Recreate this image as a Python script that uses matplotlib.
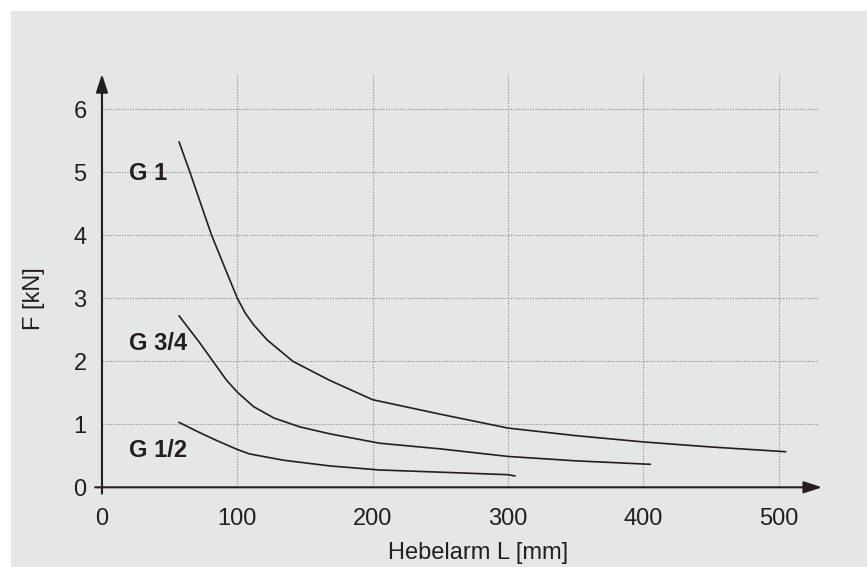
"""
Hebelarm vs. Kraft diagram (G 1, G 3/4, G 1/2)
"""

import matplotlib.pyplot as plt
from matplotlib.patches import Rectangle

plt.rcParams["font.family"] = ["Liberation Sans", "DejaVu Sans"]

# ------------------------------------------------------------------
# Data
# ------------------------------------------------------------------
g1_x = [57, 65, 73, 81, 92, 100, 106, 112, 122, 141, 168, 200, 250, 300, 350, 400, 450, 505]
g1_y = [5.48, 5.00, 4.50, 4.00, 3.42, 3.0, 2.76, 2.58, 2.34, 2.0, 1.70, 1.39, 1.16, 0.94,
        0.82, 0.72, 0.64, 0.565]

g34_x = [57, 72, 82, 92, 100, 112, 127, 146, 168, 205, 250, 300, 350, 405]
g34_y = [2.72, 2.30, 2.0, 1.70, 1.51, 1.28, 1.10, 0.96, 0.85, 0.70, 0.61, 0.49, 0.42, 0.365]

g12_x = [57, 72, 85, 100, 109, 134, 168, 205, 250, 300, 305]
g12_y = [1.03, 0.87, 0.74, 0.60, 0.53, 0.43, 0.34, 0.275, 0.24, 0.20, 0.18]

curve_labels = ["G 1", "G 3/4", "G 1/2"]
label_y = [4.98, 2.29, 0.59]

x_ticks = [0, 100, 200, 300, 400, 500]
y_ticks = [0, 1, 2, 3, 4, 5, 6]

BG = "#e5e6e8"
INK = "#231f20"
GRID = "#8a8a8a"

# ------------------------------------------------------------------
# Figure
# ------------------------------------------------------------------
fig = plt.figure(figsize=(8.67, 5.67), dpi=100, facecolor="white")
fig.patches.append(Rectangle((11 / 867, 0), 1, 556 / 567, transform=fig.transFigure,
                             facecolor=BG, edgecolor="none", zorder=-10))

ax = fig.add_axes([0.0864, 0.0739, 0.8821, 0.8444])
ax.set_facecolor("none")
ax.set_xlim(-20, 545)
ax.set_ylim(-0.6, 7)

# grid (dotted, limited extent)
ax.vlines(x_ticks[1:], 0, 6.58, colors=GRID, linestyles=(0, (1, 1.5)), lw=0.8, zorder=1)
ax.hlines(y_ticks[1:], 0, 528, colors=GRID, linestyles=(0, (1, 1.5)), lw=0.8, zorder=1)

# axes with arrows
arrow = dict(arrowstyle="-|>,head_length=0.55,head_width=0.18", color=INK, lw=1.5,
             shrinkA=0, shrinkB=0, mutation_scale=20)
ax.annotate("", xy=(0, 6.56), xytext=(0, -0.1), arrowprops=arrow, zorder=3)
ax.annotate("", xy=(532, 0), xytext=(-5, 0), arrowprops=arrow, zorder=3)

# curves
for xs, ys in [(g1_x, g1_y), (g34_x, g34_y), (g12_x, g12_y)]:
    ax.plot(xs, ys, color=INK, lw=1.2, zorder=2, solid_joinstyle="round")

for lab, ly in zip(curve_labels, label_y):
    ax.text(20, ly, lab, fontsize=17, fontweight="bold", color=INK,
            ha="left", va="center")

# ticks sit on the data-zero spines
for side in ["top", "right"]:
    ax.spines[side].set_visible(False)
ax.spines["left"].set_position(("data", 0))
ax.spines["bottom"].set_position(("data", 0))
ax.spines["left"].set_visible(False)
ax.spines["bottom"].set_visible(False)

ax.set_xticks(x_ticks)
ax.set_yticks(y_ticks)
ax.tick_params(axis="x", length=0, pad=15, labelsize=17, labelcolor=INK)
ax.tick_params(axis="y", length=0, pad=11, labelsize=17, labelcolor=INK)

ax.set_xlabel("Hebelarm L [mm]", fontsize=17, color=INK)
ax.xaxis.set_label_coords(0.527, -0.058)
ax.xaxis.label.set_va("center")
ax.set_ylabel("F [kN]", fontsize=17, color=INK)
ax.yaxis.set_label_coords(-0.0535, 0.472)
ax.yaxis.label.set_va("center")

fig.savefig("out.png", dpi=100, facecolor="white")
